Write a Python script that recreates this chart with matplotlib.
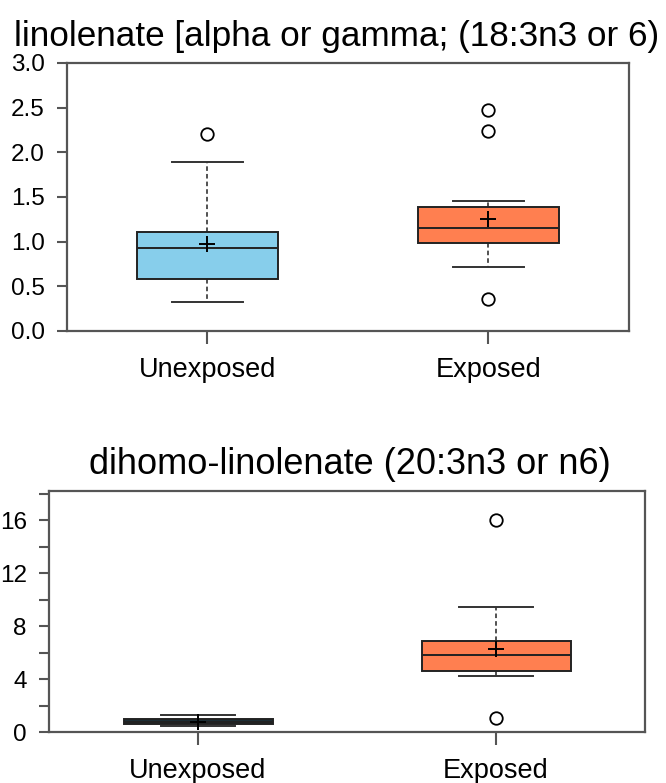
import matplotlib
matplotlib.use('Agg')
import matplotlib.pyplot as plt

plt.rcParams['font.family'] = ['Liberation Sans', 'DejaVu Sans']

groups = ['Unexposed', 'Exposed']

# linolenate panel
lin_q1 = [0.58, 0.99]
lin_med = [0.93, 1.15]
lin_q3 = [1.11, 1.39]
lin_low = [0.32, 0.72]
lin_high = [1.89, 1.46]
lin_mean = [0.97, 1.25]
lin_out = [[2.21], [2.47, 2.24, 0.36]]

# dihomo-linolenate panel
dih_q1 = [0.58, 4.6]
dih_med = [0.75, 5.85]
dih_q3 = [0.95, 6.85]
dih_low = [0.45, 4.25]
dih_high = [1.3, 9.45]
dih_mean = [0.75, 6.3]
dih_out = [[], [16.0, 1.05]]


def make_stats(q1, med, q3, low, high, mean, out):
    stats = []
    for i in range(len(q1)):
        stats.append({'q1': q1[i], 'med': med[i], 'q3': q3[i],
                      'whislo': low[i], 'whishi': high[i],
                      'mean': mean[i], 'fliers': out[i], 'label': groups[i]})
    return stats


def draw(ax, stats, colors, title, tsize, tx, ylim, yticks, ylabels, minor=None):
    bp = ax.bxp(stats, positions=[1, 2], widths=0.5, capwidths=0.25,
                patch_artist=True, showmeans=True,
                boxprops=dict(edgecolor='#222222', linewidth=1.4),
                medianprops=dict(color='#222222', linewidth=1.4),
                whiskerprops=dict(color='#222222', linewidth=1.1, linestyle=(0, (3, 2))),
                capprops=dict(color='#333333', linewidth=1.4),
                meanprops=dict(marker='+', markeredgecolor='black', markersize=12, markeredgewidth=1.4),
                flierprops=dict(marker='o', markerfacecolor='white', markeredgecolor='black',
                                markersize=9, markeredgewidth=1.3))
    for patch, c in zip(bp['boxes'], colors):
        patch.set_facecolor(c)
    ax.set_xlim(0.5, 2.5)
    ax.set_ylim(*ylim)
    ax.set_yticks(yticks)
    ax.set_yticklabels(ylabels)
    if minor is not None:
        ax.set_yticks(minor, minor=True)
    ax.set_xticks([1, 2])
    ax.set_xticklabels(groups)
    for s in ax.spines.values():
        s.set_color('#555555')
        s.set_linewidth(1.6)
    ax.tick_params(axis='y', length=7, width=1.5, color='#555555', labelsize=17.5, pad=9)
    ax.tick_params(axis='y', which='minor', length=7, width=1.5, color='#555555')
    ax.tick_params(axis='x', length=9, width=1.5, color='#555555', labelsize=19.5, pad=10)
    ax.set_title(title, fontsize=tsize, pad=12, x=tx)


fig = plt.figure(figsize=(6.66, 7.83), dpi=100)
ax1 = fig.add_axes([0.1006, 0.5773, 0.8438, 0.3423])
ax2 = fig.add_axes([0.0736, 0.0651, 0.8949, 0.3078])

draw(ax1, make_stats(lin_q1, lin_med, lin_q3, lin_low, lin_high, lin_mean, lin_out),
     ['#87CEEB', '#FF7F50'],
     'linolenate [alpha or gamma; (18:3n3 or 6)', 25.3, 0.48, (0, 3.0),
     [0, 0.5, 1.0, 1.5, 2.0, 2.5, 3.0], ['0.0', '0.5', '1.0', '1.5', '2.0', '2.5', '3.0'])
draw(ax2, make_stats(dih_q1, dih_med, dih_q3, dih_low, dih_high, dih_mean, dih_out),
     ['#1d2e35', '#FF7F50'],
     'dihomo-linolenate (20:3n3 or n6)', 26, 0.505, (0, 18.2),
     [0, 4, 8, 12, 16], ['0', '4', '8', '12', '16'], minor=[2, 6, 10, 14, 18])

fig.savefig('out.png', dpi=100)
